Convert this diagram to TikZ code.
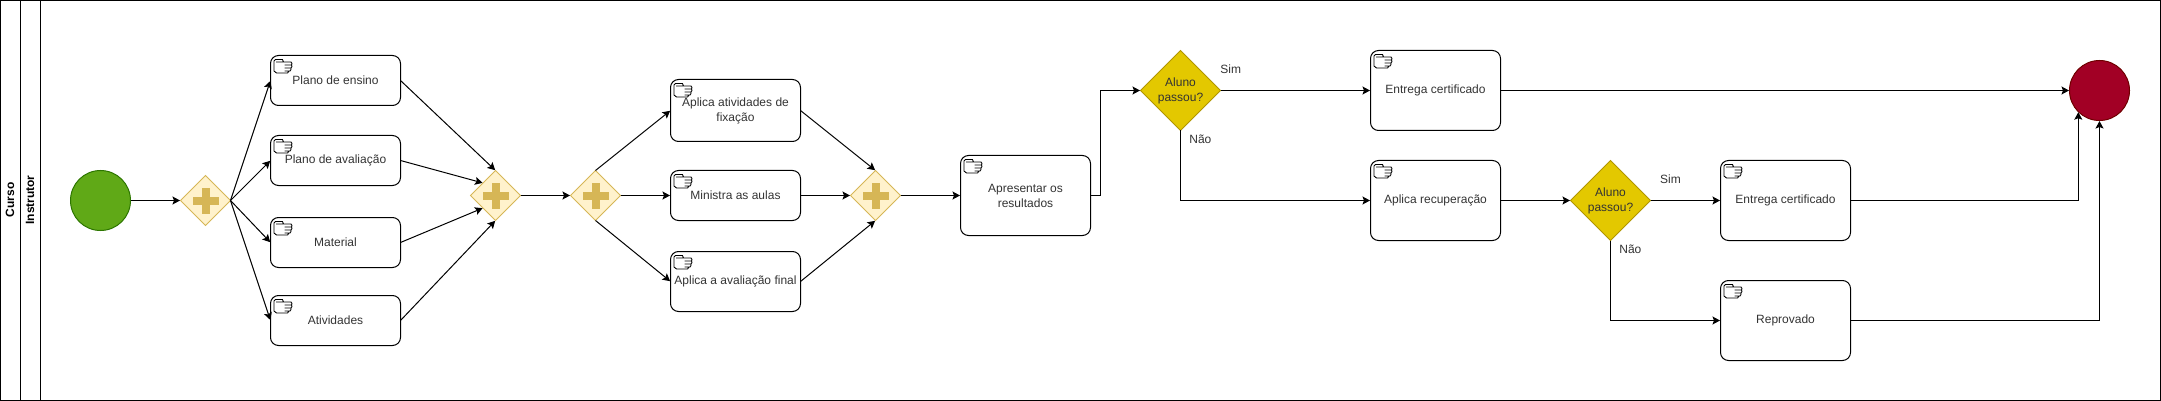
\documentclass[tikz,border=0pt]{standalone}
\usepackage{fontspec}
\setmainfont{Liberation Sans}
\usetikzlibrary{arrows.meta,shapes.geometric}
\definecolor{startfill}{HTML}{60A917}
\definecolor{startline}{HTML}{2D7600}
\definecolor{endfill}{HTML}{A20025}
\definecolor{endline}{HTML}{6F0000}
\definecolor{gatefill}{HTML}{FFF2CC}
\definecolor{gateline}{HTML}{D6B656}
\definecolor{choicefill}{HTML}{E3C800}
\definecolor{choiceline}{HTML}{B09500}
\tikzset{
  every node/.style={font=\fontsize{12}{15}\selectfont, text=black!80, inner sep=0pt, outer sep=0pt},
  flow/.style={draw=black, line width=1pt, shorten >=0.5pt, -{Stealth[length=7.5pt,width=8pt,inset=1.5pt]}},
  taskbox/.style={draw=black, line width=1pt, rounded corners=8pt, minimum width=130pt, align=center},
  gate/.style={diamond, aspect=1, draw=gateline, fill=gatefill, line width=1pt, minimum width=50pt, minimum height=50pt},
  choice/.style={diamond, aspect=1, draw=choiceline, fill=choicefill, line width=1pt, minimum width=80pt, minimum height=80pt, align=center},
  lanetitle/.style={rotate=90, font=\fontsize{12}{15}\selectfont\bfseries, text=black},
}
\begin{document}
\begin{tikzpicture}[x=1pt,y=-1pt]
  \useasboundingbox (0,0) rectangle (2161,401);
  % pool and lane
  \draw[line width=1pt] (0.5,0.5) rectangle (2160.5,400.5);
  \draw[line width=1pt] (20.5,0.5) -- (20.5,400.5);
  \draw[line width=1pt] (40.5,0.5) -- (40.5,400.5);
  \node[lanetitle] (curso) at (10,200) {Curso};
  \node[lanetitle] (instrutor) at (30,200) {Instrutor};

  % events
  \node[circle, draw=startline, fill=startfill, line width=1pt, minimum size=60pt] (inicio) at (100.5,200.5) {};
  \node[circle, draw=endline, fill=endfill, line width=1pt, minimum size=60pt] (fim) at (2099.5,90.5) {};

  % gateways
  \node[gate] (gateA) at (205.5,200.5) {};
  \node[gate] (gateB) at (495.5,195.5) {};
  \node[gate] (gateC) at (595.5,195.5) {};
  \node[gate] (gateD) at (875.5,195.5) {};
  \foreach \g in {gateA,gateB,gateC,gateD} {
      \fill[gateline, shift={(\g.center)}] (-13,-4) rectangle (13,4);
      \fill[gateline, shift={(\g.center)}] (-4,-13) rectangle (4,13);
    }

  % decisions
  \node[choice] (passouA) at (1180.5,90.5) {Aluno\\passou?};
  \node[choice] (passouB) at (1610.5,200.5) {Aluno\\passou?};

  % tasks
  \node[taskbox, minimum height=50pt] (ensino) at (335.5,80.5) {Plano de ensino};
  \node[taskbox, minimum height=50pt] (avaliacao) at (335.5,160.5) {Plano de avaliação};
  \node[taskbox, minimum height=50pt] (material) at (335.5,242.5) {Material};
  \node[taskbox, minimum height=50pt] (atividades) at (335.5,320.5) {Atividades};
  \node[taskbox, minimum height=62pt] (fixacao) at (735.5,110.5) {Aplica atividades de\\fixação};
  \node[taskbox, minimum height=50pt] (aulas) at (735.5,195.5) {Ministra as aulas};
  \node[taskbox, minimum height=60pt] (final) at (735.5,281.5) {Aplica a avaliação final};
  \node[taskbox, minimum height=80pt] (resultados) at (1025.5,195.5) {Apresentar os\\resultados};
  \node[taskbox, minimum height=80pt] (certificadoA) at (1435.5,90.5) {Entrega certificado};
  \node[taskbox, minimum height=80pt] (recuperacao) at (1435.5,200.5) {Aplica recuperação};
  \node[taskbox, minimum height=80pt] (certificadoB) at (1785.5,200.5) {Entrega certificado};
  \node[taskbox, minimum height=80pt] (reprovado) at (1785.5,320.5) {Reprovado};

  % hand icons
  \foreach \t in {ensino,avaliacao,material,atividades,fixacao,aulas,final,resultados,certificadoA,recuperacao,certificadoB,reprovado} {
      \draw[line width=0.9pt, line join=round, shift={(\t.north west)}]
        (13,6.5) -- (20.5,6.5) -- (21.5,8) -- (21,9.5) -- (14,9.5)
        (21,9.5) -- (21.5,11) -- (20.5,12.5) -- (14,12.5)
        (20.5,12.5) -- (20.5,14) -- (19.5,15.5) -- (14,15.5)
        (18.5,15.5) -- (17,17.5) -- (6,17.5) -- (3.5,15.5) -- (3.5,5.5) -- (5,4) -- (12,4) -- (13,6.5) -- (5.5,6.5);
    }

  % connectors
  \draw[flow] (inicio) -- (gateA);
  \foreach \t in {ensino,avaliacao,material,atividades} {
      \draw[flow] (gateA.east) -- (\t.west);
    }
  \draw[flow] (ensino.east) -- (gateB.north);
  \draw[flow] (avaliacao.east) -- (gateB.north west);
  \draw[flow] (material.east) -- (gateB.south west);
  \draw[flow] (atividades.east) -- (gateB.south);
  \draw[flow] (gateB.east) -- (gateC.west);
  \draw[flow] (gateC.north) -- (fixacao.west);
  \draw[flow] (gateC.east) -- (aulas.west);
  \draw[flow] (gateC.south) -- (final.west);
  \draw[flow] (fixacao.east) -- (gateD.north);
  \draw[flow] (aulas.east) -- (gateD.west);
  \draw[flow] (final.east) -- (gateD.south);
  \draw[flow] (gateD.east) -- (resultados.west);
  \coordinate (dobra) at (1100.5,195.5);
  \draw[flow] (resultados.east) -- (dobra) |- (passouA.west);
  \draw[flow] (passouA.east) -- (certificadoA.west);
  \draw[flow] (passouA.south) |- (recuperacao.west);
  \draw[flow] (recuperacao.east) -- (passouB.west);
  \draw[flow] (passouB.east) -- (certificadoB.west);
  \draw[flow] (passouB.south) |- (reprovado.west);
  \draw[flow] (certificadoA.east) -- (fim.west);
  \draw[flow] (certificadoB.east) -| (fim.south west);
  \draw[flow] (reprovado.east) -| (fim.south);

  % branch labels
  \node (simA) at (1230.7,69.7) {Sim};
  \node (naoA) at (1200.4,139.5) {Não};
  \node (simB) at (1670.4,179.7) {Sim};
  \node (naoB) at (1630.4,249.5) {Não};
\end{tikzpicture}
\end{document}
